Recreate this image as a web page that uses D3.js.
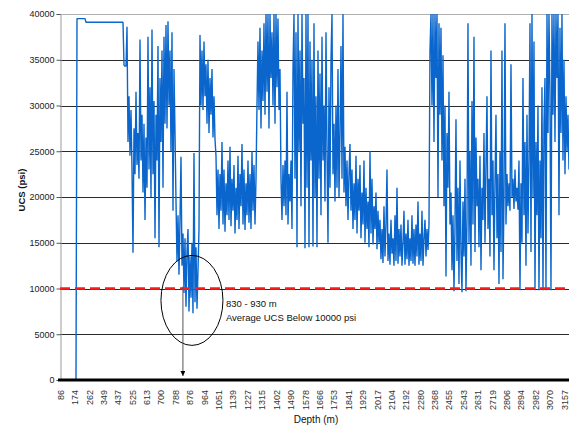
<!DOCTYPE html>
<html>
<head>
<meta charset="utf-8">
<script src="https://cdn.jsdelivr.net/npm/d3@7"></script>
<style>
    body { margin: 0; background: #fff; }
    #chart text { font-family: "Liberation Sans", Arial, sans-serif; }
</style>
</head>
<body>
<div id="chart"></div>
<script>
// depth tick labels (m) shown under the axis
const depthTicks = [86, 174, 262, 349, 437, 525, 613, 700, 788, 876, 964, 1051, 1139, 1227, 1315, 1402,
    1490, 1578, 1666, 1753, 1841, 1929, 2017, 2104, 2192, 2280, 2368, 2455, 2543, 2631, 2719, 2806,
    2894, 2982, 3070, 3157];
const ucsTicks = [0, 5000, 10000, 15000, 20000, 25000, 30000, 35000, 40000];

// log samples, first one at 86 m, one every ~6.09 m
const depthStart = 86;
const depthStep = 6.093;
const ucs = [
    0, 0, 0, 0, 0, 0, 0, 0, 0, 0, 0, 0, 0, 0, 0, 0, 0,
    39500, 39500, 39500, 39500, 39500, 39500, 39500, 39500, 39500,
    39100, 39100, 39100, 39100, 39100, 39100, 39100, 39100, 39100, 39100,
    39100, 39100, 39100, 39100, 39100, 39100, 39100, 39100, 39100, 39100,
    39100, 39100, 39100, 39100, 39100, 39100, 39100, 39100, 39100, 39100,
    39100, 39100, 39100, 39100, 39100, 39100, 39100, 39100,
    34400, 34300, 34300,
    38600, 26000, 31000, 24500, 29500, 23000, 13900, 27500, 22500, 31500,
    23500, 27000, 22000, 37200, 24000, 29000, 20500, 28000, 17500, 26500,
    21000, 37500, 23000, 32000, 20000, 38300, 22500, 30500, 15500, 29000,
    24000, 36500, 14500, 33000, 26000, 36000, 21000, 37500, 28000, 38800,
    27500, 39200, 30000, 36000, 25000, 38000, 18500, 34000, 27000, 19500,
    13000, 18000, 11500, 17500, 24400, 12500, 16000, 9500, 15500, 8000,
    14000, 16500, 7500, 13500, 9000, 15000, 7300, 24800, 8500, 14500,
    7800, 12000, 16500, 37700, 30000, 36000, 29500, 37000, 31000, 34500,
    28000, 35000, 27000, 33000, 29000, 34000, 26500, 31000, 26300, 24500,
    18000, 23000, 16500, 22500, 18500, 26000, 17000, 23000, 16200, 21500,
    18000, 24000, 17500, 25500, 16800, 22000, 18500, 23500, 16000, 21000,
    17500, 24500, 16500, 22500, 19000, 25800, 17000, 23000, 16400, 21500,
    18000, 24000, 17200, 22500, 16500, 25000, 18500, 23500, 17000, 22000,
    30000, 37000, 29500, 38500, 27500, 36000, 30500, 39000, 29000, 40000,
    31500, 40000, 27500, 40000, 33000, 38000, 30000, 40000, 28000, 40000,
    32000, 39500, 29500, 34000, 22000, 17500, 23500, 19000, 24000, 18000,
    31500, 17000, 22500, 19500, 24000, 16500, 34000, 40000, 22000, 38000,
    14500, 40000, 25000, 36000, 19000, 40000, 28000, 33000, 14400, 40000,
    21000, 40000, 14500, 37000, 24000, 35000, 14600, 39000, 20000, 31000,
    14500, 36000, 22000, 33500, 18000, 37500, 24000, 30000, 19500, 38000,
    25000, 15000, 32000, 21000, 35000, 40000, 22500, 28000, 19500, 30000,
    21000, 34000, 20000, 27000, 36500, 22000, 40000, 20500, 25500, 19000,
    24000, 17500, 22500, 25800, 18500, 23000, 16500, 21500, 17500, 24500,
    16000, 22000, 18500, 23500, 15500, 20500, 17000, 24000, 15000, 21000,
    16500, 19500, 14500, 25000, 16000, 22000, 14800, 19000, 16500, 20500,
    14300, 18500, 15000, 17500, 13200, 16500, 12800, 19000, 13500, 17000,
    23000, 13000, 16000, 12600, 17500, 13800, 15500, 12500, 18000, 13000,
    21000, 12700, 16500, 13500, 17000, 12500, 15000, 18500, 12600, 16000,
    13200, 17500, 12500, 15500, 13000, 18000, 12700, 16500, 12500, 17000,
    13500, 19500, 12600, 16000, 13000, 18500, 12500, 15500, 17500, 13500,
    16500, 14200, 17000, 36000, 40000, 30000, 40000, 26000, 40000, 33000,
    40000, 20000, 39000, 29000, 38500, 24000, 35500, 19000, 30000, 11300,
    27000, 21000, 31500, 17000, 20500, 12000, 18000, 9700, 16500, 28500,
    13000, 21000, 10500, 24000, 14000, 9600, 19500, 13500, 22000, 9700,
    17500, 39000, 15000, 25000, 12500, 30500, 17000, 37500, 14000, 26500,
    19000, 22000, 14500, 24500, 12000, 21000, 17500, 27000, 15000, 23500,
    31000, 16500, 22000, 13500, 36000, 18000, 24000, 12000, 21500, 29000,
    15500, 22500, 10500, 25000, 14000, 36000, 11000, 20000, 39000, 17000,
    22500, 19000, 21500, 18500, 34500, 20000, 22000, 18700, 23000, 19500,
    21000, 18600, 24000, 9800, 21500, 15000, 33000, 18000, 26000, 12500,
    29000, 16000, 24000, 39000, 14000, 40000, 20000, 37000, 9800, 26000,
    18000, 30000, 9800, 24000, 15500, 32000, 9800, 28000, 33000, 9800,
    40000, 27000, 40000, 31000, 9800, 40000, 29000, 40000, 26000, 40000,
    33000, 40000, 18000, 38500, 27000, 40000, 24000, 35000, 22500, 31000,
    25000, 29000, 23000
];
const limitUcs = 10000;

class UcsChart {
    constructor(_parentElement) {
        this.parentElement = _parentElement;
        this.initVis();
    }

    initVis() {
        let vis = this;

        vis.width = 569;
        vis.height = 428;
        vis.margin = { top: 14, left: 60, bottom: 48 };

        vis.svg = d3.select("#" + vis.parentElement).append("svg")
            .attr("width", vis.width)
            .attr("height", vis.height);

        // Scales
        vis.x = d3.scaleLinear()
            .domain([depthTicks[0], depthTicks[depthTicks.length - 1]])
            .range([vis.margin.left, 564]);

        vis.y = d3.scaleLinear()
            .domain([0, 40000])
            .range([vis.height - vis.margin.bottom, vis.margin.top]);

        vis.data = ucs.map((v, i) => ({ depth: depthStart + i * depthStep, ucs: v }));

        vis.updateVis();
    }

    updateVis() {
        let vis = this;
        let x0 = vis.margin.left;
        let yBottom = vis.y(0);

        // horizontal grid lines
        vis.svg.append("g")
            .selectAll("line")
            .data(ucsTicks.filter(d => d > 0))
            .enter().append("line")
            .attr("x1", x0)
            .attr("x2", vis.width)
            .attr("y1", d => Math.round(vis.y(d)) + 0.5)
            .attr("y2", d => Math.round(vis.y(d)) + 0.5)
            .attr("stroke", d => d === 40000 ? "#b0b0b0" : "#2a2a2a")
            .attr("stroke-width", 1);

        // y axis
        let yAxis = d3.axisLeft(vis.y)
            .tickValues(ucsTicks)
            .tickSize(4)
            .tickPadding(2)
            .tickFormat(d3.format("d"));

        let yg = vis.svg.append("g")
            .attr("transform", "translate(" + (x0 + 0.5) + ",0)")
            .call(yAxis);
        yg.select(".domain").attr("stroke", "#9a9a9a");
        yg.selectAll(".tick line").attr("stroke", "#555");
        yg.selectAll("text")
            .attr("font-size", "9px")
            .attr("fill", "#222");

        // the log itself
        vis.svg.append("clipPath")
            .attr("id", "plotClip")
            .append("rect")
            .attr("x", x0)
            .attr("y", vis.margin.top - 1)
            .attr("width", vis.width - x0)
            .attr("height", yBottom - vis.margin.top + 1);

        let line = d3.line()
            .x(d => vis.x(d.depth))
            .y(d => vis.y(d.ucs));

        vis.svg.append("path")
            .datum(vis.data)
            .attr("clip-path", "url(#plotClip)")
            .attr("d", line)
            .attr("fill", "none")
            .attr("stroke", "#0a66cc")
            .attr("stroke-width", 1.4)
            .attr("stroke-linejoin", "bevel");

        // 10000 psi limit
        vis.svg.append("line")
            .attr("x1", x0)
            .attr("x2", vis.width)
            .attr("y1", vis.y(limitUcs))
            .attr("y2", vis.y(limitUcs))
            .attr("stroke", "#ff1a1a")
            .attr("stroke-width", 2.5)
            .attr("stroke-dasharray", "10,5");

        // x axis (thick black base line)
        vis.svg.append("line")
            .attr("x1", x0 - 2)
            .attr("x2", vis.width)
            .attr("y1", yBottom)
            .attr("y2", yBottom)
            .attr("stroke", "#000")
            .attr("stroke-width", 3);

        let xAxis = d3.axisBottom(vis.x)
            .tickValues(depthTicks)
            .tickSize(0)
            .tickFormat(d3.format("d"));

        let xg = vis.svg.append("g")
            .attr("transform", "translate(0," + yBottom + ")")
            .call(xAxis);
        xg.select(".domain").remove();
        xg.selectAll("text")
            .attr("font-size", "9px")
            .attr("fill", "#333")
            .attr("text-anchor", "end")
            .attr("transform", "rotate(-90)")
            .attr("x", -10)
            .attr("y", 0)
            .attr("dy", "0.35em");

        // axis titles
        vis.svg.append("text")
            .attr("x", 316)
            .attr("y", 423)
            .attr("text-anchor", "middle")
            .attr("font-size", "10px")
            .attr("fill", "#111")
            .text("Depth (m)");

        vis.svg.append("text")
            .attr("transform", "translate(25,190) rotate(-90)")
            .attr("text-anchor", "middle")
            .attr("font-size", "9.5px")
            .attr("font-weight", "bold")
            .attr("fill", "#111")
            .text("UCS (psi)");

        // annotation: ellipse, arrow and note
        let defs = vis.svg.append("defs");
        defs.append("marker")
            .attr("id", "arrowHead")
            .attr("viewBox", "0 0 10 10")
            .attr("refX", 10)
            .attr("refY", 5)
            .attr("markerWidth", 5)
            .attr("markerHeight", 5)
            .attr("orient", "auto")
            .append("path")
            .attr("d", "M0,0 L10,5 L0,10 z")
            .attr("fill", "#000");

        vis.svg.append("ellipse")
            .attr("cx", vis.x(890))
            .attr("cy", vis.y(8700))
            .attr("rx", 31)
            .attr("ry", 45)
            .attr("fill", "none")
            .attr("stroke", "#000")
            .attr("stroke-width", 1);

        vis.svg.append("line")
            .attr("x1", vis.x(835))
            .attr("x2", vis.x(835))
            .attr("y1", vis.y(limitUcs) - 2)
            .attr("y2", yBottom - 4)
            .attr("stroke", "#555")
            .attr("stroke-width", 1)
            .attr("marker-end", "url(#arrowHead)");

        let note = vis.svg.append("text")
            .attr("x", vis.x(1097))
            .attr("y", vis.y(limitUcs) + 18)
            .attr("font-size", "9.5px")
            .attr("fill", "#111");
        note.append("tspan").text("830 - 930 m");
        note.append("tspan")
            .attr("x", vis.x(1097))
            .attr("dy", 14)
            .text("Average UCS Below 10000 psi");
    }
}

let chart = new UcsChart("chart");
</script>
</body>
</html>
